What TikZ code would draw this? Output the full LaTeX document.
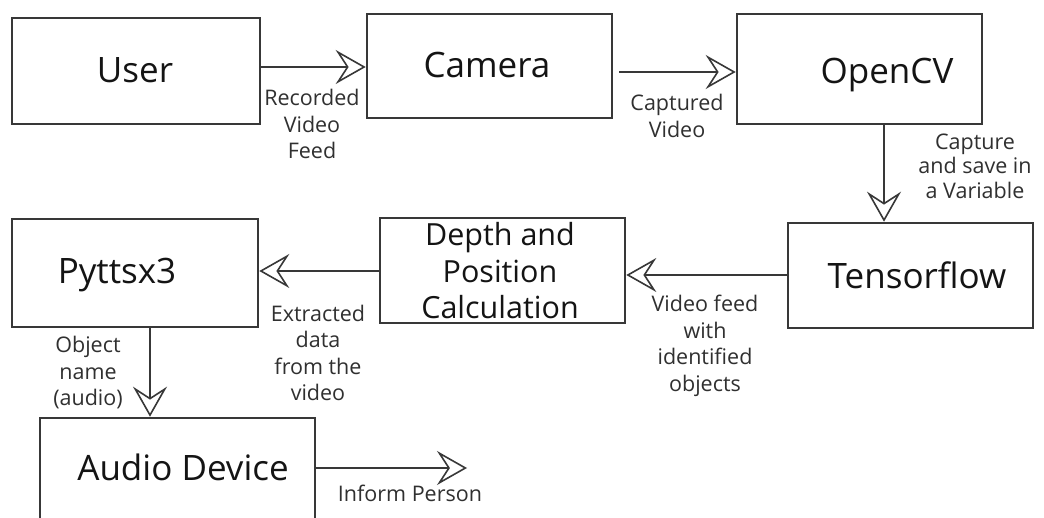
\documentclass[tikz,border=0pt]{standalone}
\usepackage{fontspec}
\setmainfont{Open Sans}
\usetikzlibrary{arrows.meta}
\definecolor{linec}{HTML}{383838}
\definecolor{boxtxt}{HTML}{141414}
\definecolor{labtxt}{HTML}{303030}
\begin{document}
\begin{tikzpicture}[x=1pt,y=-1pt,
  box/.style={draw=linec, line width=2.6pt, rectangle, inner sep=0pt},
  boxtext/.style={text=boxtxt, inner sep=0pt, font=\fontsize{35}{41}\selectfont},
  lab/.style={text=labtxt, inner sep=0pt, align=center, font=\fontsize{21.5}{26.5}\selectfont},
  arr/.style={draw=linec, line width=2.6pt,
    -{Stealth[open, length=30pt, width=34pt, inset=11pt, line width=1.6pt]}}
]
\useasboundingbox (0,0) rectangle (1044,518);
\fill[white] (0,0) rectangle (1044,518);
\clip (0,0) rectangle (1044,518);

% boxes
\node[box, minimum width=248pt, minimum height=106pt] (user) at (136,71) {};
\node[box, minimum width=245pt, minimum height=104pt] (camera) at (489.5,66) {};
\node[box, minimum width=245pt, minimum height=110pt] (opencv) at (859.5,69) {};
\node[box, minimum width=245pt, minimum height=105pt] (tensor) at (910.5,275.5) {};
\node[box, minimum width=245pt, minimum height=105pt] (depth) at (502.5,270.5) {};
\node[box, minimum width=246pt, minimum height=108pt] (pytt) at (135,273) {};
\node[box, minimum width=275pt, minimum height=130pt] (audio) at (177.5,483) {};

% box texts
\node[boxtext] (userT) at (135,70) {User};
\node[boxtext] (cameraT) at (487,65) {Camera};
\node[boxtext] (opencvT) at (887,75) {OpenCV};
\node[boxtext] (tensorT) at (917,275) {Tensorflow};
\node[boxtext, align=center, font=\fontsize{30.5}{36.5}\selectfont] (depthT) at (500,271) {Depth and\\Position\\Calculation};
\node[boxtext] (pyttT) at (117,275) {Pyttsx3};
\node[boxtext] (audioT) at (183,467) {Audio Device};

% connectors
\coordinate (inform) at (467,468);
\draw[arr] (user.east |- 0,67) -- (camera.west |- 0,67);
\draw[arr] ([xshift=6pt]camera.east |- 0,72) -- (opencv.west |- 0,72);
\draw[arr] (opencv.south -| 884,0) -- (tensor.north -| 884,0);
\draw[arr] (tensor.west |- 0,275) -- (depth.east |- 0,275);
\draw[arr] (depth.west |- 0,271) -- (pytt.east |- 0,271);
\draw[arr] (pytt.south -| 150,0) -- (audio.north -| 150,0);
\draw[arr] (audio.east |- inform) -- (inform);

% labels
\node[lab] (l1) at (312,124) {Recorded\\Video\\Feed};
\node[lab] (l2) at (677,116) {Captured\\Video};
\node[lab, font=\fontsize{21.5}{24.5}\selectfont] (l3) at (975,166) {Capture\\and save in\\a Variable};
\node[lab] (l4) at (705,346) {Video feed\\with\\identified\\objects};
\node[lab] (l5) at (318,353) {Extracted\\data\\from the\\video};
\node[lab] (l6) at (88,373) {Object\\name\\(audio)};
\node[lab] (l7) at (410,493) {Inform Person};
\end{tikzpicture}
\end{document}
